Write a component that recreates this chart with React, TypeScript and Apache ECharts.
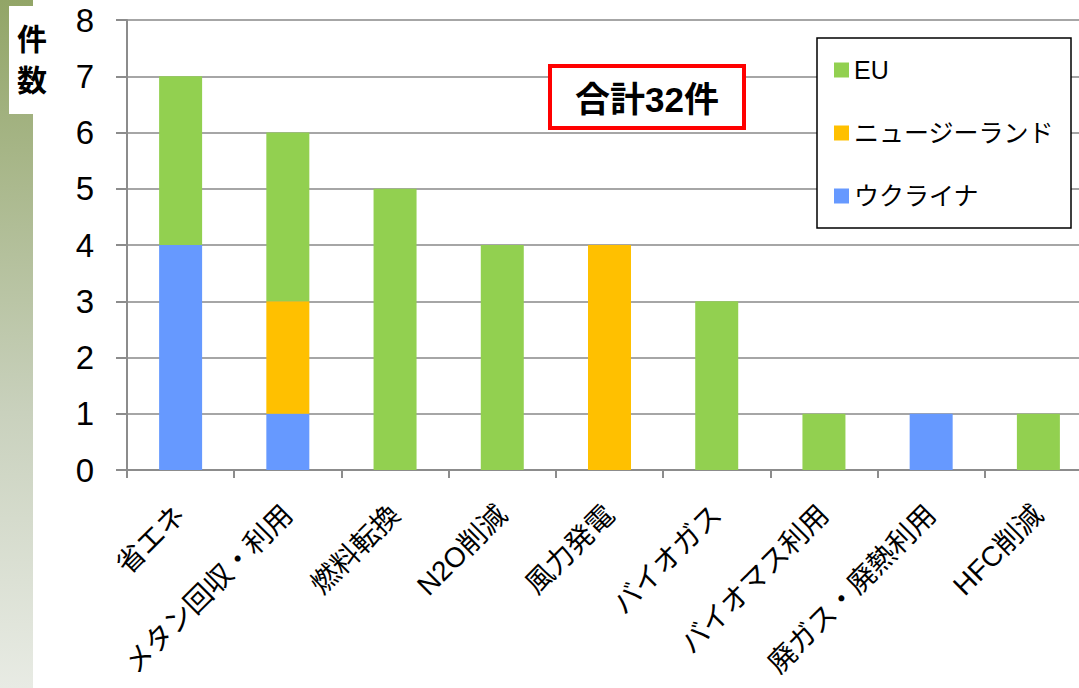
import React, { useEffect, useRef } from "react";
import * as echarts from "echarts";

const categories = [
  "省エネ",
  "メタン回収・利用",
  "燃料転換",
  "N2O削減",
  "風力発電",
  "バイオガス",
  "バイオマス利用",
  "廃ガス・廃熱利用",
  "HFC削減",
];
const ukraineValues = [4, 1, 0, 0, 0, 0, 0, 1, 0];
const newZealandValues = [0, 2, 0, 0, 4, 0, 0, 0, 0];
const euValues = [3, 3, 5, 4, 0, 3, 1, 0, 1];
const seriesNames = ["EU", "ニュージーランド", "ウクライナ"];
const totalLabel = "合計32件";
const yAxisTitleChars = ["件", "数"];
const yMin = 0;
const yMax = 8;
const yInterval = 1;

const FONT = "'Liberation Sans', Arial, 'Noto Sans CJK JP', sans-serif";

export default function App() {
  const ref = useRef<HTMLDivElement>(null);

  useEffect(() => {
    if (!ref.current) return;
    const chart = echarts.init(ref.current, undefined, { renderer: "svg" });
    const toData = (arr: number[]) => arr.map((v) => (v === 0 ? "-" : v));
    const titleText = (t: string, y: number) => ({
      type: "text",
      z: 12,
      x: 32,
      y,
      style: {
        text: t,
        fontSize: 30,
        lineHeight: 31,
        fontWeight: "bold",
        fill: "#000",
        fontFamily: "'Noto Sans CJK JP', sans-serif",
        align: "center",
        verticalAlign: "middle",
      },
    });
    const option: any = {
      animation: false,
      backgroundColor: "#ffffff",
      grid: { left: 127, top: 20, width: 965, height: 450, containLabel: false },
      legend: {
        data: seriesNames,
        orient: "vertical",
        left: 834,
        top: 57,
        itemWidth: 15,
        itemHeight: 15,
        itemGap: 37,
        padding: 0,
        icon: "rect",
        z: 20,
        textStyle: { fontSize: 25, lineHeight: 26, color: "#000", fontFamily: FONT },
      },
      xAxis: {
        type: "category",
        data: categories,
        axisLine: { show: true, lineStyle: { color: "#8c8c8c", width: 2 } },
        axisTick: { show: true, length: 8, lineStyle: { color: "#8c8c8c", width: 2 } },
        axisLabel: {
          rotate: 45,
          margin: 40,
          fontSize: 28,
          color: "#000",
          fontFamily: FONT,
          interval: 0,
        },
      },
      yAxis: {
        type: "value",
        min: yMin,
        max: yMax,
        interval: yInterval,
        axisLine: { show: true, lineStyle: { color: "#8c8c8c", width: 2 } },
        axisTick: { show: true, length: 11, lineStyle: { color: "#8c8c8c", width: 2 } },
        splitLine: { show: true, lineStyle: { color: "#a6a6a6", width: 2 } },
        axisLabel: { margin: 33, fontSize: 33, color: "#000", fontFamily: FONT },
      },
      series: [
        {
          name: seriesNames[2],
          type: "bar",
          stack: "total",
          barWidth: 43,
          itemStyle: { color: "#6699ff" },
          data: toData(ukraineValues),
        },
        {
          name: seriesNames[1],
          type: "bar",
          stack: "total",
          barWidth: 43,
          itemStyle: { color: "#ffc000" },
          data: toData(newZealandValues),
        },
        {
          name: seriesNames[0],
          type: "bar",
          stack: "total",
          barWidth: 43,
          itemStyle: { color: "#92d050" },
          data: toData(euValues),
        },
      ],
      graphic: [
        {
          type: "rect",
          z: 10,
          shape: { x: 0, y: 0, width: 33, height: 688 },
          style: {
            fill: new echarts.graphic.LinearGradient(0, 0, 0, 1, [
              { offset: 0, color: "#92a567" },
              { offset: 0.6, color: "#c9d1bd" },
              { offset: 1, color: "#e8ebe4" },
            ]),
          },
        },
        {
          type: "rect",
          z: 11,
          shape: { x: 9, y: 6, width: 40, height: 108 },
          style: { fill: "#ffffff" },
        },
        titleText(yAxisTitleChars[0], 37),
        titleText(yAxisTitleChars[1], 78),
        {
          type: "rect",
          z: 10,
          shape: { x: 817, y: 38, width: 254, height: 190 },
          style: { fill: "#ffffff", stroke: "#000000", lineWidth: 1.5 },
        },
        {
          type: "rect",
          z: 10,
          shape: { x: 550, y: 66, width: 194, height: 62 },
          style: { fill: "#ffffff", stroke: "#ff0000", lineWidth: 4 },
        },
        {
          type: "text",
          z: 12,
          x: 647,
          y: 99,
          style: {
            text: totalLabel,
            fontSize: 35,
            fontWeight: "bold",
            fill: "#000",
            fontFamily: FONT,
            align: "center",
            verticalAlign: "middle",
          },
        },
      ],
    };
    chart.setOption(option);
    return () => chart.dispose();
  }, []);

  return (
    <div
      style={{
        position: "absolute",
        left: 0,
        top: 0,
        width: 1079,
        height: 688,
        overflow: "hidden",
      }}
    >
      <div ref={ref} style={{ width: 1110, height: 688 }} />
    </div>
  );
}
